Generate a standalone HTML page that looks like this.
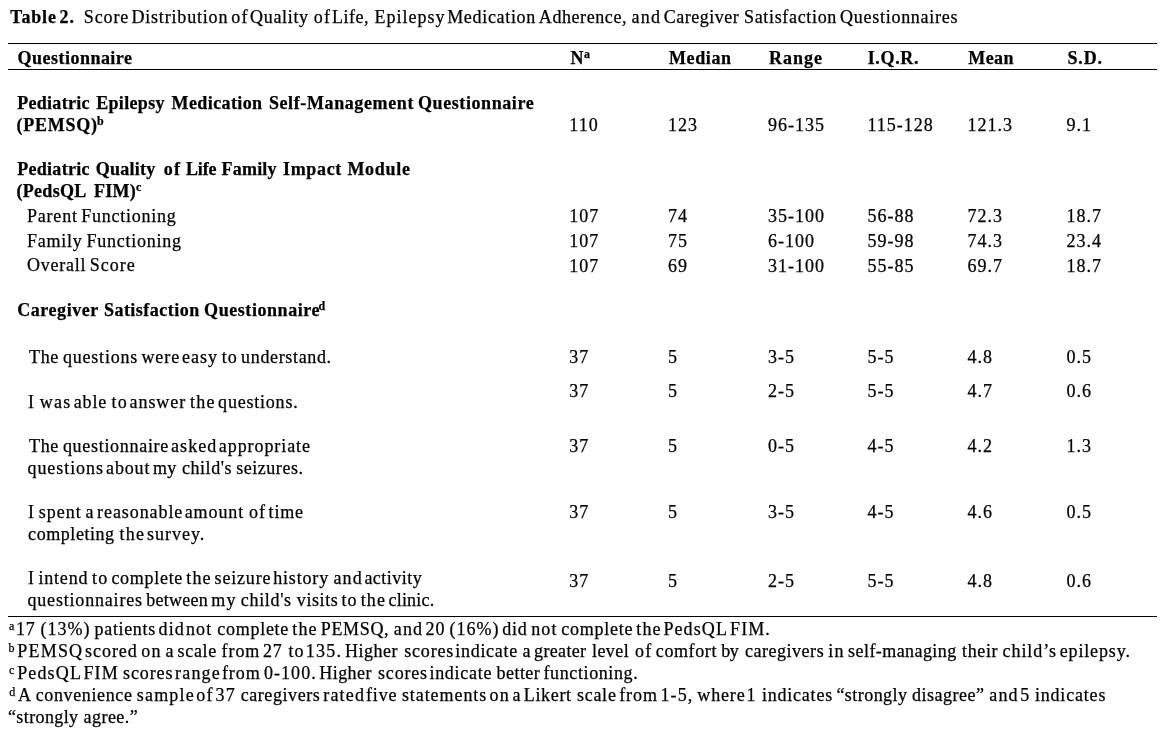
<!DOCTYPE html><html><head><meta charset="utf-8"><title>Table 2</title><style>
html,body{margin:0;padding:0;background:#fff;}
body{width:1170px;height:735px;position:relative;overflow:hidden;font-family:"Liberation Serif",serif;color:#000;}
.t{position:absolute;white-space:pre;line-height:20px;height:20px;font-size:18px;-webkit-text-stroke:0.25px #000;}
.t b,.b{font-weight:bold;}
.l{left:0;width:1170px;}
.w{position:absolute;top:0;white-space:pre;}
.n{letter-spacing:1px;}
sup{font-size:12px;vertical-align:baseline;position:relative;top:-6px;line-height:0;}
sup.f{top:-5px;margin-right:-0.6px;}
.r{position:absolute;background:#000;}
</style></head><body>
<div class="r" style="left:8px;top:43px;width:1149px;height:1px"></div>
<div class="r" style="left:8px;top:69px;width:1149px;height:1px"></div>
<div class="r" style="left:8px;top:616px;width:1149px;height:1px"></div>
<div id="i0" class="t l" style="top:6.92px;"><span class="w" style="left:10.3px;letter-spacing:0.82px;"><b>Table</b> </span><span class="w" style="left:59.4px;letter-spacing:1.20px;"><b>2.</b> </span><span class="w" style="left:83.8px;letter-spacing:0.88px;">Score </span><span class="w" style="left:131.4px;letter-spacing:0.82px;">Distribution </span><span class="w" style="left:231.3px;letter-spacing:1.20px;">of </span><span class="w" style="left:250.1px;letter-spacing:0.67px;">Quality </span><span class="w" style="left:313.8px;letter-spacing:1.20px;">of </span><span class="w" style="left:332.1px;letter-spacing:0.47px;">Life, </span><span class="w" style="left:374.4px;letter-spacing:1.00px;">Epilepsy </span><span class="w" style="left:447.2px;letter-spacing:0.68px;">Medication </span><span class="w" style="left:538.8px;letter-spacing:0.58px;">Adherence, </span><span class="w" style="left:631.6px;letter-spacing:1.20px;">and </span><span class="w" style="left:663.8px;letter-spacing:0.50px;">Caregiver </span><span class="w" style="left:744.0px;letter-spacing:0.67px;">Satisfaction </span><span class="w" style="left:840.1px;letter-spacing:0.72px;">Questionnaires</span></div>
<div id="i1" class="t b" style="left:17.5px;top:47.92px;letter-spacing:0.484px;">Questionnaire</div>
<div id="i2" class="t b" style="left:570.5px;top:47.92px;letter-spacing:0.500px;">N<sup>a</sup></div>
<div id="i3" class="t b" style="left:669px;top:47.92px;letter-spacing:0.597px;">Median</div>
<div id="i4" class="t b" style="left:769px;top:47.92px;letter-spacing:1.000px;">Range</div>
<div id="i5" class="t b" style="left:867.7px;top:47.92px;letter-spacing:0.657px;">I.Q.R.</div>
<div id="i6" class="t b" style="left:968.3px;top:47.92px;letter-spacing:0.400px;">Mean</div>
<div id="i7" class="t b" style="left:1067.5px;top:47.92px;letter-spacing:0.828px;">S.D.</div>
<div id="i8" class="t b l" style="top:93.42px;"><span class="w" style="left:17.2px;letter-spacing:0.29px;">Pediatric </span><span class="w" style="left:96.2px;letter-spacing:0.33px;">Epilepsy </span><span class="w" style="left:171.6px;letter-spacing:0.39px;">Medication </span><span class="w" style="left:268.9px;letter-spacing:0.61px;">Self-Management </span><span class="w" style="left:418.0px;letter-spacing:0.58px;">Questionnaire</span></div>
<div id="i9" class="t b l" style="top:114.92px;"><span class="w" style="left:16.4px;letter-spacing:0.77px;">(PEMSQ)</span><span class="w" style="left:97.1px;"><sup>b</sup></span></div>
<div id="i10" class="t n" style="left:569.3px;top:114.92px;">110</div>
<div id="i11" class="t n" style="left:668px;top:114.92px;">123</div>
<div id="i12" class="t n" style="left:768px;top:114.92px;">96-135</div>
<div id="i13" class="t n" style="left:867.5px;top:114.92px;">115-128</div>
<div id="i14" class="t n" style="left:967.5px;top:114.92px;">121.3</div>
<div id="i15" class="t n" style="left:1066.5px;top:114.92px;">9.1</div>
<div id="i16" class="t b l" style="top:158.93px;"><span class="w" style="left:17.2px;letter-spacing:0.29px;">Pediatric </span><span class="w" style="left:95.8px;letter-spacing:0.25px;">Quality </span><span class="w" style="left:163.8px;letter-spacing:1.20px;">of </span><span class="w" style="left:186.0px;letter-spacing:-0.17px;">Life </span><span class="w" style="left:221.5px;letter-spacing:0.22px;">Family </span><span class="w" style="left:283.1px;letter-spacing:0.64px;">Impact </span><span class="w" style="left:347.4px;letter-spacing:0.74px;">Module</span></div>
<div id="i17" class="t b l" style="top:180.93px;"><span class="w" style="left:16.4px;letter-spacing:0.32px;">(PedsQL  </span><span class="w" style="left:94.0px;letter-spacing:0.23px;">FIM)</span><span class="w" style="left:136.0px;"><sup>c</sup></span></div>
<div id="i18" class="t l" style="top:205.93px;"><span class="w" style="left:26.9px;letter-spacing:0.82px;">Parent </span><span class="w" style="left:81.3px;letter-spacing:0.75px;">Functioning</span></div>
<div id="i19" class="t n" style="left:569.3px;top:205.93px;">107</div>
<div id="i20" class="t n" style="left:668px;top:205.93px;">74</div>
<div id="i21" class="t n" style="left:768px;top:205.93px;">35-100</div>
<div id="i22" class="t n" style="left:867.5px;top:205.93px;">56-88</div>
<div id="i23" class="t n" style="left:967.5px;top:205.93px;">72.3</div>
<div id="i24" class="t n" style="left:1066.5px;top:205.93px;">18.7</div>
<div id="i25" class="t l" style="top:230.93px;"><span class="w" style="left:26.9px;letter-spacing:0.76px;">Family </span><span class="w" style="left:86.4px;letter-spacing:0.75px;">Functioning</span></div>
<div id="i26" class="t n" style="left:569.3px;top:230.93px;">107</div>
<div id="i27" class="t n" style="left:668px;top:230.93px;">75</div>
<div id="i28" class="t n" style="left:768px;top:230.93px;">6-100</div>
<div id="i29" class="t n" style="left:867.5px;top:230.93px;">59-98</div>
<div id="i30" class="t n" style="left:967.5px;top:230.93px;">74.3</div>
<div id="i31" class="t n" style="left:1066.5px;top:230.93px;">23.4</div>
<div id="i32" class="t l" style="top:255.43px;"><span class="w" style="left:26.9px;letter-spacing:0.77px;">Overall </span><span class="w" style="left:89.8px;letter-spacing:1.00px;">Score</span></div>
<div id="i33" class="t n" style="left:569.3px;top:255.93px;">107</div>
<div id="i34" class="t n" style="left:668px;top:255.93px;">69</div>
<div id="i35" class="t n" style="left:768px;top:255.93px;">31-100</div>
<div id="i36" class="t n" style="left:867.5px;top:255.93px;">55-85</div>
<div id="i37" class="t n" style="left:967.5px;top:255.93px;">69.7</div>
<div id="i38" class="t n" style="left:1066.5px;top:255.93px;">18.7</div>
<div id="i39" class="t b l" style="top:299.93px;"><span class="w" style="left:17.2px;letter-spacing:0.56px;">Caregiver </span><span class="w" style="left:103.9px;letter-spacing:0.49px;">Satisfaction </span><span class="w" style="left:204.1px;letter-spacing:0.56px;">Questionnaire</span><span class="w" style="left:318.6px;"><sup>d</sup></span></div>
<div id="i40" class="t l" style="top:346.93px;"><span class="w" style="left:29.1px;letter-spacing:0.60px;">The </span><span class="w" style="left:62.9px;letter-spacing:0.80px;">questions </span><span class="w" style="left:141.4px;letter-spacing:0.93px;">were </span><span class="w" style="left:181.9px;letter-spacing:1.07px;">easy </span><span class="w" style="left:221.7px;letter-spacing:1.00px;">to </span><span class="w" style="left:241.1px;letter-spacing:0.65px;">understand.</span></div>
<div id="i41" class="t n" style="left:569.3px;top:346.93px;">37</div>
<div id="i42" class="t n" style="left:668px;top:346.93px;">5</div>
<div id="i43" class="t n" style="left:768px;top:346.93px;">3-5</div>
<div id="i44" class="t n" style="left:867.5px;top:346.93px;">5-5</div>
<div id="i45" class="t n" style="left:967.5px;top:346.93px;">4.8</div>
<div id="i46" class="t n" style="left:1066.5px;top:346.93px;">0.5</div>
<div id="i47" class="t l" style="top:391.93px;"><span class="w" style="left:28.0px;">I </span><span class="w" style="left:39.8px;letter-spacing:1.20px;">was </span><span class="w" style="left:73.8px;letter-spacing:0.83px;">able </span><span class="w" style="left:111.5px;letter-spacing:1.20px;">to </span><span class="w" style="left:129.6px;letter-spacing:0.92px;">answer </span><span class="w" style="left:190.0px;letter-spacing:1.20px;">the </span><span class="w" style="left:218.1px;letter-spacing:0.79px;">questions.</span></div>
<div id="i48" class="t n" style="left:569.3px;top:380.93px;">37</div>
<div id="i49" class="t n" style="left:668px;top:380.93px;">5</div>
<div id="i50" class="t n" style="left:768px;top:380.93px;">2-5</div>
<div id="i51" class="t n" style="left:867.5px;top:380.93px;">5-5</div>
<div id="i52" class="t n" style="left:967.5px;top:380.93px;">4.7</div>
<div id="i53" class="t n" style="left:1066.5px;top:380.93px;">0.6</div>
<div id="i54" class="t l" style="top:436.43px;"><span class="w" style="left:29.1px;letter-spacing:0.60px;">The </span><span class="w" style="left:62.9px;letter-spacing:0.70px;">questionnaire </span><span class="w" style="left:171.0px;letter-spacing:1.08px;">asked </span><span class="w" style="left:218.8px;letter-spacing:0.92px;">appropriate</span></div>
<div id="i55" class="t l" style="top:458.43px;"><span class="w" style="left:27.5px;letter-spacing:0.93px;">questions </span><span class="w" style="left:106.1px;letter-spacing:0.83px;">about </span><span class="w" style="left:153.1px;letter-spacing:0.20px;">my </span><span class="w" style="left:181.9px;letter-spacing:0.57px;">child's </span><span class="w" style="left:236.2px;letter-spacing:0.54px;">seizures.</span></div>
<div id="i56" class="t n" style="left:569.3px;top:436.43px;">37</div>
<div id="i57" class="t n" style="left:668px;top:436.43px;">5</div>
<div id="i58" class="t n" style="left:768px;top:436.43px;">0-5</div>
<div id="i59" class="t n" style="left:867.5px;top:436.43px;">4-5</div>
<div id="i60" class="t n" style="left:967.5px;top:436.43px;">4.2</div>
<div id="i61" class="t n" style="left:1066.5px;top:436.43px;">1.3</div>
<div id="i62" class="t l" style="top:502.43px;"><span class="w" style="left:28.0px;">I </span><span class="w" style="left:38.8px;letter-spacing:1.00px;">spent </span><span class="w" style="left:85.5px;">a </span><span class="w" style="left:97.1px;letter-spacing:0.92px;">reasonable </span><span class="w" style="left:184.7px;letter-spacing:0.90px;">amount </span><span class="w" style="left:248.9px;letter-spacing:1.20px;">of </span><span class="w" style="left:268.6px;letter-spacing:0.83px;">time</span></div>
<div id="i63" class="t l" style="top:524.42px;"><span class="w" style="left:28.1px;letter-spacing:0.56px;">completing </span><span class="w" style="left:119.5px;letter-spacing:1.20px;">the </span><span class="w" style="left:147.1px;letter-spacing:0.98px;">survey.</span></div>
<div id="i64" class="t n" style="left:569.3px;top:502.43px;">37</div>
<div id="i65" class="t n" style="left:668px;top:502.43px;">5</div>
<div id="i66" class="t n" style="left:768px;top:502.43px;">3-5</div>
<div id="i67" class="t n" style="left:867.5px;top:502.43px;">4-5</div>
<div id="i68" class="t n" style="left:967.5px;top:502.43px;">4.6</div>
<div id="i69" class="t n" style="left:1066.5px;top:502.43px;">0.5</div>
<div id="i70" class="t l" style="top:568.42px;"><span class="w" style="left:28.0px;">I </span><span class="w" style="left:38.4px;letter-spacing:0.82px;">intend </span><span class="w" style="left:92.1px;letter-spacing:1.10px;">to </span><span class="w" style="left:111.4px;letter-spacing:0.71px;">complete </span><span class="w" style="left:186.2px;letter-spacing:1.20px;">the </span><span class="w" style="left:214.6px;letter-spacing:0.82px;">seizure </span><span class="w" style="left:273.2px;letter-spacing:0.83px;">history </span><span class="w" style="left:333.4px;letter-spacing:1.20px;">and </span><span class="w" style="left:364.4px;letter-spacing:0.49px;">activity</span></div>
<div id="i71" class="t l" style="top:590.42px;"><span class="w" style="left:27.5px;letter-spacing:0.81px;">questionnaires </span><span class="w" style="left:146.2px;letter-spacing:0.28px;">between </span><span class="w" style="left:211.3px;letter-spacing:1.10px;">my </span><span class="w" style="left:240.8px;letter-spacing:0.67px;">child's </span><span class="w" style="left:296.8px;letter-spacing:0.60px;">visits </span><span class="w" style="left:341.4px;letter-spacing:1.20px;">to </span><span class="w" style="left:360.7px;letter-spacing:1.10px;">the </span><span class="w" style="left:388.5px;letter-spacing:0.20px;">clinic.</span></div>
<div id="i72" class="t n" style="left:569.3px;top:570.92px;">37</div>
<div id="i73" class="t n" style="left:668px;top:570.92px;">5</div>
<div id="i74" class="t n" style="left:768px;top:570.92px;">2-5</div>
<div id="i75" class="t n" style="left:867.5px;top:570.92px;">5-5</div>
<div id="i76" class="t n" style="left:967.5px;top:570.92px;">4.8</div>
<div id="i77" class="t n" style="left:1066.5px;top:570.92px;">0.6</div>
<div id="i78" class="t l" style="top:618.92px;"><span class="w" style="left:9.1px;"><sup class="f">a</sup> </span><span class="w" style="left:15.9px;letter-spacing:0.90px;">17 </span><span class="w" style="left:40.4px;letter-spacing:1.00px;">(13%) </span><span class="w" style="left:94.6px;letter-spacing:0.65px;">patients </span><span class="w" style="left:158.5px;letter-spacing:1.15px;">did </span><span class="w" style="left:185.9px;letter-spacing:1.20px;">not </span><span class="w" style="left:217.2px;letter-spacing:0.74px;">complete </span><span class="w" style="left:292.2px;letter-spacing:1.20px;">the </span><span class="w" style="left:320.8px;letter-spacing:0.65px;">PEMSQ, </span><span class="w" style="left:393.7px;letter-spacing:1.20px;">and </span><span class="w" style="left:425.4px;letter-spacing:1.20px;">20 </span><span class="w" style="left:449.5px;letter-spacing:1.00px;">(16%) </span><span class="w" style="left:502.2px;letter-spacing:0.75px;">did </span><span class="w" style="left:531.3px;letter-spacing:1.05px;">not </span><span class="w" style="left:561.3px;letter-spacing:0.74px;">complete </span><span class="w" style="left:636.2px;letter-spacing:1.20px;">the </span><span class="w" style="left:663.4px;letter-spacing:1.10px;">PedsQL </span><span class="w" style="left:730.1px;letter-spacing:1.03px;">FIM.</span></div>
<div id="i79" class="t l" style="top:640.92px;"><span class="w" style="left:8.6px;"><sup class="f">b</sup> </span><span class="w" style="left:17.3px;letter-spacing:1.20px;">PEMSQ </span><span class="w" style="left:85.1px;letter-spacing:0.94px;">scored </span><span class="w" style="left:141.3px;letter-spacing:1.20px;">on </span><span class="w" style="left:165.4px;">a </span><span class="w" style="left:177.6px;letter-spacing:0.65px;">scale </span><span class="w" style="left:221.6px;letter-spacing:0.90px;">from </span><span class="w" style="left:262.9px;letter-spacing:0.90px;">27 </span><span class="w" style="left:288.4px;letter-spacing:1.10px;">to </span><span class="w" style="left:305.8px;letter-spacing:1.20px;">135. </span><span class="w" style="left:345.1px;letter-spacing:0.50px;">Higher </span><span class="w" style="left:404.2px;letter-spacing:0.84px;">scores </span><span class="w" style="left:455.2px;letter-spacing:0.73px;">indicate </span><span class="w" style="left:522.4px;">a </span><span class="w" style="left:534.1px;letter-spacing:0.33px;">greater </span><span class="w" style="left:592.0px;letter-spacing:0.43px;">level </span><span class="w" style="left:635.1px;letter-spacing:1.20px;">of </span><span class="w" style="left:655.8px;letter-spacing:0.60px;">comfort </span><span class="w" style="left:721.2px;letter-spacing:-0.50px;">by </span><span class="w" style="left:745.0px;letter-spacing:0.52px;">caregivers </span><span class="w" style="left:828.3px;letter-spacing:1.20px;">in </span><span class="w" style="left:848.1px;letter-spacing:0.43px;">self-managing </span><span class="w" style="left:962.0px;letter-spacing:0.65px;">their </span><span class="w" style="left:1002.6px;letter-spacing:0.92px;">child’s </span><span class="w" style="left:1059.7px;letter-spacing:0.86px;">epilepsy.</span></div>
<div id="i80" class="t l" style="top:662.92px;"><span class="w" style="left:8.9px;"><sup class="f">c</sup> </span><span class="w" style="left:17.2px;letter-spacing:1.14px;">PedsQL </span><span class="w" style="left:83.4px;letter-spacing:1.20px;">FIM </span><span class="w" style="left:123.1px;letter-spacing:0.88px;">scores </span><span class="w" style="left:175.0px;letter-spacing:1.20px;">range </span><span class="w" style="left:221.9px;letter-spacing:0.93px;">from </span><span class="w" style="left:263.9px;letter-spacing:1.08px;">0-100. </span><span class="w" style="left:319.3px;letter-spacing:0.44px;">Higher </span><span class="w" style="left:378.0px;letter-spacing:0.82px;">scores </span><span class="w" style="left:429.4px;letter-spacing:0.74px;">indicate </span><span class="w" style="left:496.6px;letter-spacing:0.44px;">better </span><span class="w" style="left:543.5px;letter-spacing:0.61px;">functioning.</span></div>
<div id="i81" class="t l" style="top:684.92px;"><span class="w" style="left:9.3px;"><sup class="f">d</sup> </span><span class="w" style="left:18.1px;">A </span><span class="w" style="left:35.7px;letter-spacing:0.63px;">convenience </span><span class="w" style="left:136.8px;letter-spacing:1.18px;">sample </span><span class="w" style="left:196.2px;letter-spacing:1.20px;">of </span><span class="w" style="left:215.6px;letter-spacing:1.20px;">37 </span><span class="w" style="left:240.7px;letter-spacing:0.57px;">caregivers </span><span class="w" style="left:323.2px;letter-spacing:1.20px;">rated </span><span class="w" style="left:366.0px;letter-spacing:0.87px;">five </span><span class="w" style="left:401.9px;letter-spacing:0.93px;">statements </span><span class="w" style="left:489.6px;letter-spacing:1.20px;">on </span><span class="w" style="left:512.6px;">a </span><span class="w" style="left:523.8px;letter-spacing:0.66px;">Likert </span><span class="w" style="left:576.9px;letter-spacing:0.75px;">scale </span><span class="w" style="left:619.2px;letter-spacing:0.90px;">from </span><span class="w" style="left:660.5px;letter-spacing:1.07px;">1-5, </span><span class="w" style="left:697.3px;letter-spacing:0.85px;">where </span><span class="w" style="left:746.6px;">1 </span><span class="w" style="left:761.9px;letter-spacing:0.79px;">indicates </span><span class="w" style="left:836.4px;letter-spacing:0.45px;">“strongly </span><span class="w" style="left:912.0px;letter-spacing:0.49px;">disagree” </span><span class="w" style="left:989.2px;letter-spacing:1.20px;">and </span><span class="w" style="left:1020.3px;">5 </span><span class="w" style="left:1034.9px;letter-spacing:0.82px;">indicates</span></div>
<div id="i82" class="t l" style="top:706.92px;"><span class="w" style="left:8.0px;letter-spacing:0.38px;">“strongly </span><span class="w" style="left:83.6px;letter-spacing:0.45px;">agree.”</span></div>
</body></html>
